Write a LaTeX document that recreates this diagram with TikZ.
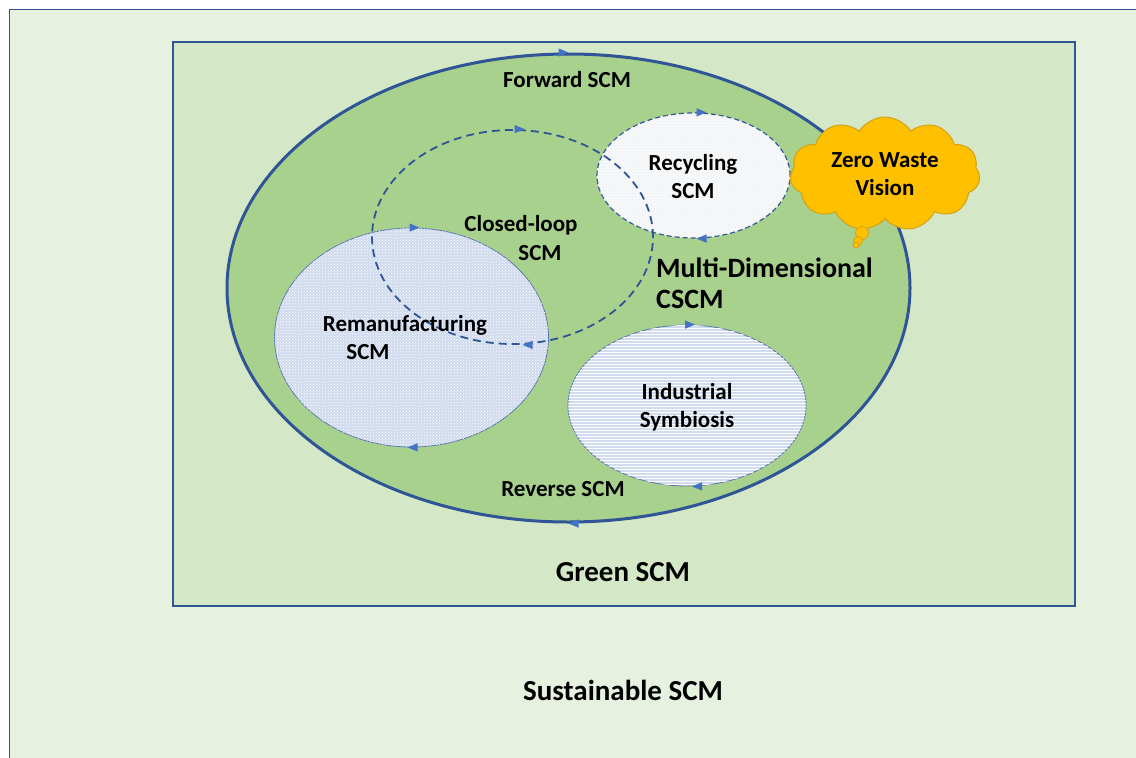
\documentclass[tikz,border=0pt]{standalone}
\usepackage{fontspec}
\setmainfont{Carlito}
\usetikzlibrary{shapes.geometric,shapes.symbols,patterns,arrows.meta}
\definecolor{outerbg}{RGB}{231,241,224}
\definecolor{greenbg}{RGB}{212,231,198}
\definecolor{ellgreen}{RGB}{169,209,142}
\definecolor{bordblue}{RGB}{47,85,151}
\definecolor{arrblue}{RGB}{68,114,196}
\definecolor{remfill}{RGB}{208,219,238}
\definecolor{indfill}{RGB}{210,220,240}
\definecolor{recfill}{RGB}{246,248,250}
\definecolor{cloudfill}{RGB}{255,192,0}
\definecolor{cloudline}{RGB}{214,160,20}
\begin{document}
\begin{tikzpicture}[x=1pt,y=-1pt,
  ell/.style={ellipse, inner sep=0pt},
  lbl/.style={font=\bfseries\fontsize{23}{28}\selectfont, align=center, inner sep=0pt},
  biglbl/.style={font=\bfseries\fontsize{29}{34}\selectfont, align=center, inner sep=0pt},
  tipmark/.style={arrblue, line width=1.2pt, -{Triangle[length=10pt,width=8pt]}},
  loopdash/.style={draw=bordblue, line width=1.8pt, dash pattern=on 8pt off 5pt}
]
\useasboundingbox (0,0) rectangle (1136,758);
\fill[white] (0,0) rectangle (1136,758);
% outer (sustainable) area
\filldraw[fill=outerbg, draw=bordblue, line width=0.8pt] (9,9) rectangle (1145,770);
% green SCM rectangle
\filldraw[fill=greenbg, draw=bordblue, line width=2pt] (173,42) rectangle (1075,606);
% multi-dimensional CSCM ellipse
\node[ell, fill=ellgreen, draw=bordblue, line width=3pt, minimum width=683pt, minimum height=468pt] (big) at (568.5,288) {};
% remanufacturing
\node[ell, fill=remfill, draw=bordblue!80, line width=0.8pt, minimum width=274pt, minimum height=219pt,
      postaction={pattern=crosshatch dots, pattern color=white}] (rem) at (411.5,337.5) {};
% industrial symbiosis
\node[ell, fill=indfill, draw=bordblue!80, line width=0.8pt, minimum width=238pt, minimum height=161pt,
      postaction={pattern=horizontal lines, pattern color=white}] (ind) at (687,405.5) {};
% recycling
\node[ell, fill=recfill, draw=bordblue, line width=1.2pt, dash pattern=on 5pt off 3pt,
      minimum width=193pt, minimum height=125pt,
      postaction={pattern=dots, pattern color=black!12}] (rec) at (693.5,175.5) {};
% closed loop dashed ellipse
\node[ell, loopdash, minimum width=281pt, minimum height=214pt] (loop) at (512.5,237) {};
% arrow marks (clockwise)
\draw[tipmark] ([xshift=-8pt]big.north) -- (big.north);
\draw[tipmark] ([xshift=8pt]big.south) -- (big.south);
\draw[tipmark] ([xshift=6pt]loop.north) -- ([xshift=12pt]loop.north);
\draw[tipmark] ([xshift=16pt]loop.south) -- ([xshift=10pt]loop.south);
\draw[tipmark] ([xshift=6pt]rec.north) -- ([xshift=13pt]rec.north);
\draw[tipmark] ([xshift=10pt]rec.south) -- ([xshift=3pt]rec.south);
\draw[tipmark] ([xshift=1pt]rem.north) -- ([xshift=8pt]rem.north);
\draw[tipmark] ([xshift=3pt]rem.south) -- ([xshift=-4pt]rem.south);
\draw[tipmark] ([xshift=1pt]ind.north) -- ([xshift=8pt]ind.north);
\draw[tipmark] ([xshift=12pt]ind.south) -- ([xshift=5pt]ind.south);
% cloud
\node[cloud, cloud puffs=11, cloud puff arc=115, aspect=1.65, fill=cloudfill, draw=cloudline, line width=1pt,
      minimum width=190pt, minimum height=114pt, inner sep=0pt, lbl] (zero) at (885,174) {Zero Waste\\Vision};
\filldraw[fill=cloudfill, draw=cloudline, line width=0.8pt] (862,233) circle[radius=6.5pt];
\filldraw[fill=cloudfill, draw=cloudline, line width=0.8pt] (858,241) circle[radius=4.5pt];
\filldraw[fill=cloudfill, draw=cloudline, line width=0.8pt] (856,245) circle[radius=3pt];
% labels
\node[lbl] (fwd) at (567,80) {Forward SCM};
\node[lbl] (rev) at (563,489) {Reverse SCM};
\node[lbl] (cl1) at (521,225) {Closed-loop};
\node[lbl] (cl2) at (540,253) {SCM};
\node[lbl] (rectxt) at (693,177) {Recycling\\SCM};
\node[lbl] (rm1) at (405,325) {Remanufacturing};
\node[lbl] (rm2) at (368,352) {SCM};
\node[lbl] (indtxt) at (687,407) {Industrial\\Symbiosis};
\node[lbl, font=\bfseries\fontsize{28}{32}\selectfont, anchor=west] (md1) at (656,268) {Multi-Dimensional};
\node[lbl, font=\bfseries\fontsize{28}{32}\selectfont, anchor=west] (md2) at (656,299) {CSCM};
\node[biglbl] (green) at (623,572) {Green SCM};
\node[biglbl] (sust) at (623,690) {Sustainable SCM};
\end{tikzpicture}
\end{document}
